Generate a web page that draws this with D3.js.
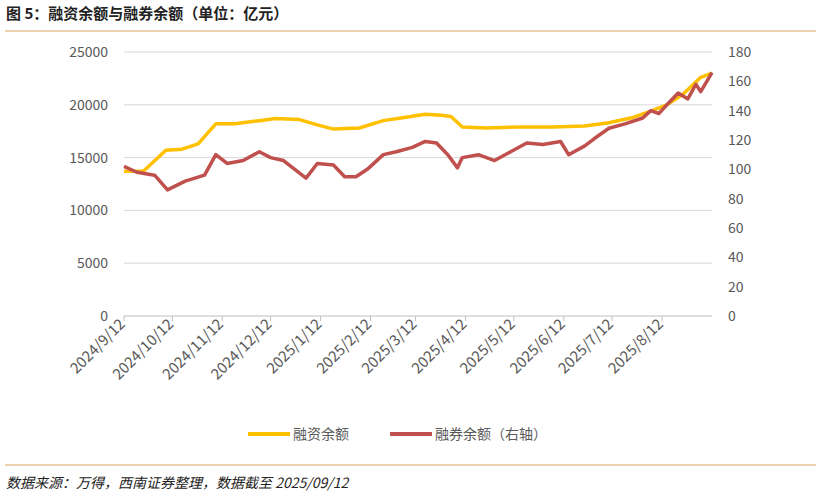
<!DOCTYPE html><html><head><meta charset="utf-8">
<script src="https://cdn.jsdelivr.net/npm/d3@7"></script>
<style>body{margin:0;background:#fff}svg{font-family:"Noto Sans CJK SC",sans-serif}</style></head><body>
<svg id="c" width="821" height="496"></svg>
<script>
const marginDates=["2024-09-12","2024-09-24","2024-10-08","2024-10-18","2024-10-28","2024-11-08","2024-11-20","2024-12-05","2024-12-15","2024-12-30","2025-01-10","2025-01-20","2025-02-05","2025-02-20","2025-03-05","2025-03-18","2025-03-28","2025-04-03","2025-04-10","2025-04-25","2025-05-15","2025-06-05","2025-06-25","2025-07-10","2025-07-25","2025-08-05","2025-08-15","2025-08-25","2025-09-05","2025-09-12"];
const marginVals=[13700,13700,15700,15800,16300,18200,18200,18500,18700,18600,18100,17700,17800,18500,18800,19100,19000,18900,17900,17800,17900,17900,18000,18300,18800,19400,20000,21000,22600,23000];
const shortDates=["2024-09-12","2024-09-20","2024-10-01","2024-10-09","2024-10-20","2024-11-01","2024-11-08","2024-11-15","2024-11-25","2024-12-05","2024-12-12","2024-12-20","2025-01-03","2025-01-10","2025-01-20","2025-01-27","2025-02-03","2025-02-10","2025-02-20","2025-02-28","2025-03-10","2025-03-18","2025-03-25","2025-04-01","2025-04-07","2025-04-10","2025-04-20","2025-04-30","2025-05-10","2025-05-20","2025-05-30","2025-06-10","2025-06-15","2025-06-25","2025-07-01","2025-07-10","2025-07-20","2025-07-31","2025-08-05","2025-08-10","2025-08-15","2025-08-22","2025-08-28","2025-09-02","2025-09-05","2025-09-12"];
const shortVals=[102,98,96,86,92,96,110,104,106,112,108,106,94,104,103,95,95,100,110,112,115,119,118,110,101,108,110,106,112,118,117,119,110,116,121,128,131,135,140,138,144,152,148,158,153,166];
const leftTicks=[0,5000,10000,15000,20000,25000];
const rightTicks=[0,20,40,60,80,100,120,140,160,180];
const xTickLabels=["2024/9/12","2024/10/12","2024/11/12","2024/12/12","2025/1/12","2025/2/12","2025/3/12","2025/4/12","2025/5/12","2025/6/12","2025/7/12","2025/8/12"];

const svg=d3.select("#c");
const p=d3.timeParse("%Y-%m-%d"), q=d3.timeParse("%Y/%m/%d");
const x=d3.scaleTime().domain([p("2024-09-12"),p("2025-09-12")]).range([124,712]);
const yL=d3.scaleLinear().domain([0,25000]).range([316,52]);
const yR=d3.scaleLinear().domain([0,180]).range([316,52]);
svg.append("text").attr("x",6).attr("y",19).attr("font-size",15).attr("font-weight","bold").attr("fill","#222").text("图 5：融资余额与融券余额（单位：亿元）");
svg.append("line").attr("x1",5).attr("x2",816).attr("y1",31).attr("y2",31).attr("stroke","#d9a35c").attr("stroke-width",1);
svg.append("line").attr("x1",5).attr("x2",816).attr("y1",465).attr("y2",465).attr("stroke","#d9a35c").attr("stroke-width",1);
leftTicks.forEach(t=>{ if(t>0) svg.append("line").attr("x1",124).attr("x2",712).attr("y1",yL(t)).attr("y2",yL(t)).attr("stroke","#d9d9d9");
 svg.append("text").attr("x",108).attr("y",yL(t)+5).attr("text-anchor","end").attr("font-size",14).attr("fill","#595959").text(t);});
rightTicks.forEach(t=>svg.append("text").attr("x",728).attr("y",yR(t)+5).attr("font-size",14).attr("fill","#595959").text(t));
svg.append("line").attr("x1",124).attr("x2",712).attr("y1",316).attr("y2",316).attr("stroke","#bfbfbf");
xTickLabels.forEach(s=>{const xx=x(q(s));
 svg.append("line").attr("x1",xx).attr("x2",xx).attr("y1",316).attr("y2",321).attr("stroke","#bfbfbf");
 svg.append("text").attr("transform",`translate(${xx+2},${325}) rotate(-45)`).attr("text-anchor","end").attr("font-size",15).attr("fill","#595959").text(s);});
const ml=marginDates.map((d,i)=>[x(p(d)),yL(marginVals[i])]);
const sl=shortDates.map((d,i)=>[x(p(d)),yR(shortVals[i])]);
svg.append("path").attr("d",d3.line()(ml)).attr("fill","none").attr("stroke","#ffc000").attr("stroke-width",3.5).attr("stroke-linejoin","round");
svg.append("path").attr("d",d3.line()(sl)).attr("fill","none").attr("stroke","#c0504d").attr("stroke-width",3.5).attr("stroke-linejoin","round");
svg.append("line").attr("x1",248).attr("x2",290).attr("y1",434).attr("y2",434).attr("stroke","#ffc000").attr("stroke-width",4);
svg.append("text").attr("x",293).attr("y",439).attr("font-size",14).attr("fill","#595959").text("融资余额");
svg.append("line").attr("x1",390).attr("x2",432).attr("y1",434).attr("y2",434).attr("stroke","#c0504d").attr("stroke-width",4);
svg.append("text").attr("x",435).attr("y",439).attr("font-size",14).attr("fill","#595959").text("融券余额（右轴）");
svg.append("text").attr("x",6).attr("y",488).attr("font-size",14).attr("font-style","italic").attr("fill","#222").text("数据来源：万得，西南证券整理，数据截至 2025/09/12");
</script></body></html>
